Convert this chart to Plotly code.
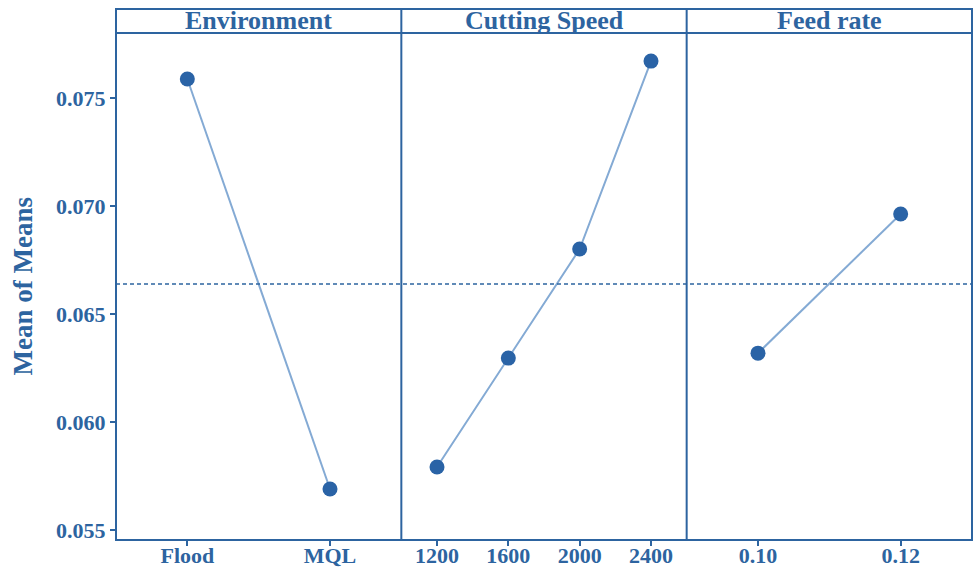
import plotly.graph_objects as go
from plotly.subplots import make_subplots

factors = ["Environment", "Cutting Speed", "Feed rate"]
env_levels = ["Flood", "MQL"]
env_means = [0.07588, 0.05690]
speed_levels = ["1200", "1600", "2000", "2400"]
speed_means = [0.05792, 0.06296, 0.06801, 0.07671]
feed_levels = ["0.10", "0.12"]
feed_means = [0.06319, 0.06963]
grand_mean = 0.06639
y_ticks = [0.055, 0.060, 0.065, 0.070, 0.075]

BLUE = "#2d64a0"
MARK = "#2a63a6"
LINE = "#84aad4"
FONT = "Liberation Serif"

W, H = 975, 571
ml, mr, mt, mb = 116, 3, 33, 31
plot_h = H - mt - mb
head_h = 24

fig = make_subplots(rows=1, cols=3, shared_yaxes=True, horizontal_spacing=0)

tickfont = dict(family=FONT, size=22, color=BLUE, weight="bold")

series = [(env_levels, env_means), (speed_levels, speed_means), (feed_levels, feed_means)]
for i, (lv, mv) in enumerate(series, start=1):
    fig.add_trace(go.Scatter(
        x=lv, y=mv, mode="lines+markers",
        line=dict(color=LINE, width=2),
        marker=dict(color=MARK, size=15),
        showlegend=False, cliponaxis=False), row=1, col=i)
    n = len(lv)
    fig.update_xaxes(type="category", range=[-0.5, n - 0.5],
                     tickvals=lv, ticktext=lv, showline=False,
                     ticks="outside", ticklen=5, tickcolor=BLUE, tickwidth=1.5,
                     tickfont=tickfont, automargin=False, ticklabelstandoff=-9,
                     showgrid=False, zeroline=False, row=1, col=i)

fig.update_yaxes(range=[0.05454, 0.07801], tickvals=y_ticks,
                 ticktext=[f"{v:.3f}" for v in y_ticks], showline=False,
                 showgrid=False, zeroline=False, automargin=False,
                 tickfont=tickfont)
fig.update_yaxes(ticks="outside", ticklen=5, tickcolor=BLUE, tickwidth=1.5, row=1, col=1)

# grand mean dashed line
fig.add_shape(type="line", xref="paper", yref="y", x0=0, x1=1,
              y0=grand_mean, y1=grand_mean,
              line=dict(color=BLUE, width=1.4, dash="4px,3px"))

# frame, panel dividers and header strip
top = 1 + head_h / plot_h
border = dict(color=BLUE, width=2)
fig.add_shape(type="rect", xref="paper", yref="paper", x0=0, x1=1, y0=0, y1=top,
              line=border, layer="above")
fig.add_shape(type="line", xref="paper", yref="paper", x0=0, x1=1, y0=1, y1=1,
              line=border, layer="above")
for k in (1, 2):
    fig.add_shape(type="line", xref="paper", yref="paper", x0=k / 3, x1=k / 3,
                  y0=0, y1=top, line=border, layer="above")

for i, name in enumerate(factors):
    x0 = i / 3
    x1 = (i + 1) / 3
    fig.add_annotation(xref="paper", yref="paper", x=(x0 + x1) / 2, y=(1 + top) / 2,
                       text=f"<b>{name}</b>", showarrow=False,
                       xanchor="center", yanchor="middle",
                       font=dict(family=FONT, size=26, color=BLUE))

fig.add_annotation(xref="paper", yref="paper", x=(22 - ml) / (W - ml - mr), y=0.5,
                   text="<b>Mean of Means</b>", textangle=-90, showarrow=False,
                   xanchor="center", yanchor="middle",
                   font=dict(family=FONT, size=27, color=BLUE))

fig.update_layout(width=W, height=H, margin=dict(l=ml, r=mr, t=mt, b=mb, autoexpand=False),
                  paper_bgcolor="white", plot_bgcolor="white")

fig.write_html("out.html", config={"displayModeBar": False},
               post_script="document.body.style.margin='0';document.body.style.overflow='hidden';")
